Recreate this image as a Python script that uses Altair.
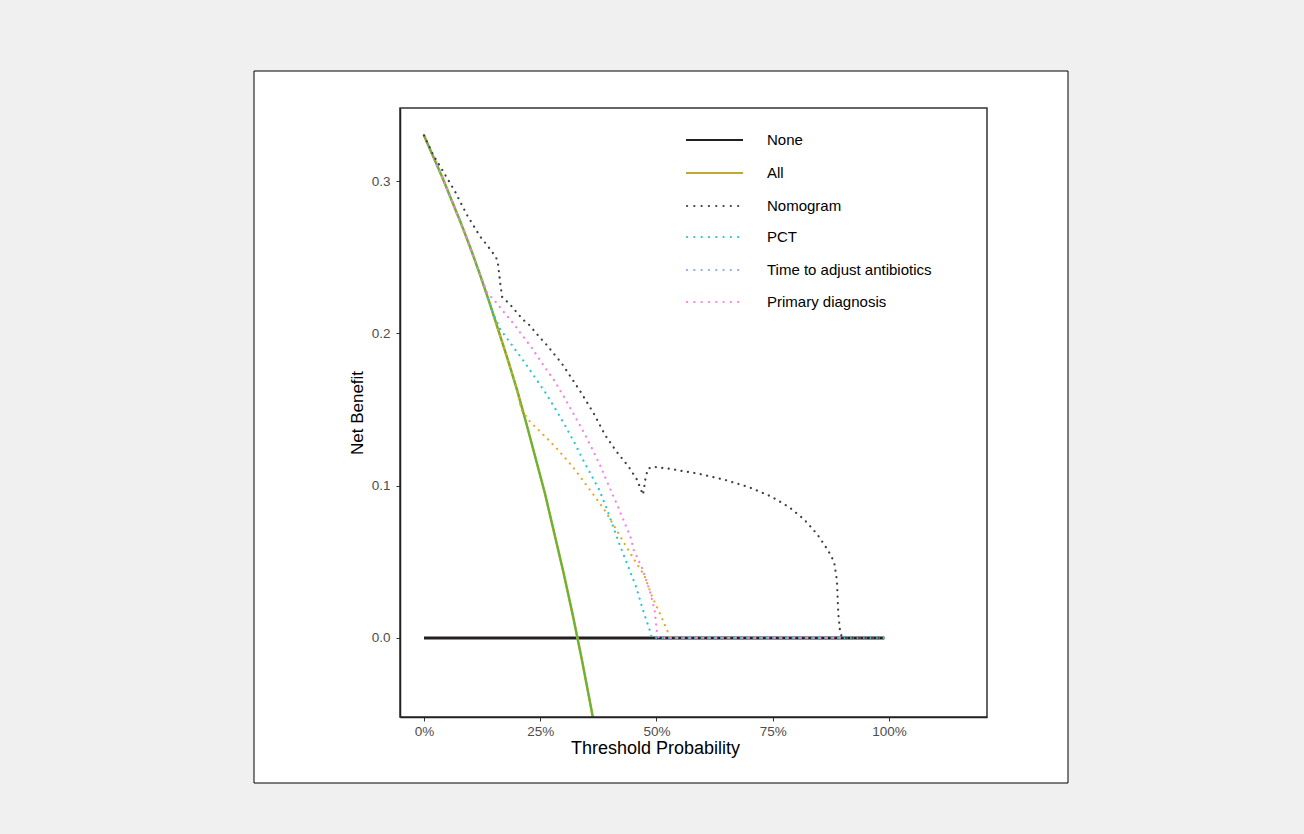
import altair as alt
import pandas as pd

# ---------------- data ----------------
none_x = [0.0, 0.99]
none_y = [0.0, 0.0]

all_x = [0.0, 0.02, 0.04, 0.06, 0.08, 0.10, 0.12, 0.14, 0.16, 0.18, 0.20, 0.22,
         0.24, 0.26, 0.28, 0.30, 0.32, 0.34, 0.36, 0.37]
all_y = [0.330, 0.316, 0.302, 0.287, 0.272, 0.256, 0.239, 0.221, 0.202, 0.183,
         0.163, 0.141, 0.118, 0.095, 0.069, 0.043, 0.015, -0.015, -0.047, -0.064]

nomo_x = [0.0, 0.02, 0.038, 0.067, 0.092, 0.121, 0.138, 0.155, 0.159, 0.164, 0.168,
          0.185, 0.213, 0.225, 0.25, 0.261, 0.297, 0.336, 0.365, 0.39, 0.415, 0.44,
          0.458, 0.471, 0.476, 0.481, 0.492, 0.530, 0.588, 0.645, 0.699, 0.746,
          0.785, 0.817, 0.846, 0.868, 0.882, 0.888, 0.891, 0.895, 0.90, 0.99]
nomo_y = [0.330, 0.317, 0.308, 0.293, 0.278, 0.2635, 0.257, 0.250, 0.246, 0.233, 0.224,
          0.219, 0.209, 0.206, 0.197, 0.1935, 0.180, 0.162, 0.1475, 0.133, 0.122, 0.1125,
          0.104, 0.094, 0.104, 0.111, 0.1125, 0.111, 0.108, 0.104, 0.099, 0.093,
          0.086, 0.078, 0.068, 0.058, 0.050, 0.038, 0.016, 0.0035, 0.0, 0.0]

pct_x = [0.0, 0.04, 0.08, 0.12, 0.146, 0.164, 0.189, 0.214, 0.239, 0.262, 0.284, 0.305,
         0.325, 0.343, 0.357, 0.377, 0.393, 0.407, 0.421, 0.436, 0.456, 0.472, 0.486,
         0.49, 0.99]
pct_y = [0.330, 0.302, 0.272, 0.239, 0.215, 0.2027, 0.1924, 0.182, 0.171, 0.1607, 0.1497,
         0.1387, 0.1274, 0.1164, 0.1085, 0.0972, 0.085, 0.073, 0.061, 0.0494, 0.0337,
         0.0173, 0.0046, 0.0, 0.0]

time_x = [0.0, 0.04, 0.08, 0.12, 0.16, 0.20, 0.209, 0.228, 0.248, 0.268, 0.287, 0.306,
          0.324, 0.341, 0.357, 0.374, 0.39, 0.412, 0.433, 0.455, 0.474, 0.49, 0.508,
          0.519, 0.525, 0.53, 0.99]
time_y = [0.330, 0.302, 0.272, 0.239, 0.202, 0.163, 0.150, 0.142, 0.136, 0.130, 0.1239,
          0.1173, 0.1108, 0.1037, 0.0972, 0.0901, 0.0832, 0.072, 0.061, 0.050, 0.041,
          0.0276, 0.0156, 0.0079, 0.0035, 0.0, 0.0]

prim_x = [0.0, 0.04, 0.08, 0.12, 0.136, 0.155, 0.172, 0.191, 0.208, 0.233, 0.257, 0.281,
          0.302, 0.323, 0.343, 0.362, 0.380, 0.396, 0.413, 0.429, 0.445, 0.451, 0.469,
          0.485, 0.496, 0.501, 0.505, 0.99]
prim_y = [0.330, 0.302, 0.272, 0.239, 0.2267, 0.2204, 0.2139, 0.207, 0.200, 0.190, 0.179,
          0.1687, 0.1578, 0.1464, 0.1354, 0.1241, 0.1125, 0.101, 0.0891, 0.0775, 0.0655,
          0.0578, 0.0458, 0.0315, 0.0184, 0.0037, 0.0, 0.0]

legend_labels = ["None", "All", "Nomogram", "PCT", "Time to adjust antibiotics",
                 "Primary diagnosis"]
legend_colors = ["#231f20", "#c2a830", "#404040", "#22c7d4", "#85a8f2", "#f77ee6"]
legend_rows = [32, 65, 98, 129, 162, 194]

x_ticks = [0, 0.25, 0.5, 0.75, 1.0]
y_ticks = [0.0, 0.1, 0.2, 0.3]

# ---------------- layout ----------------
W, H = 587, 609
FONT = "Liberation Sans"

xs = alt.Scale(domain=[-0.0516, 1.2108], nice=False, zero=False)
ys = alt.Scale(domain=[-0.0519, 0.348], nice=False, zero=False)

X = alt.X("x:Q", scale=xs, axis=alt.Axis(
    values=x_ticks, format=".0%", title="Threshold Probability", grid=False,
    labelFont=FONT, labelFontSize=13.5, labelColor="#4d4d4d", labelPadding=3,
    titleFont=FONT, titleFontSize=18, titleFontWeight="normal", titleColor="#000",
    titlePadding=2, titleX=255, domainColor="#222", domainWidth=1.5,
    tickColor="#333", tickSize=4, zindex=1))
Y = alt.Y("y:Q", scale=ys, axis=alt.Axis(
    values=y_ticks, format=".1f", title="Net Benefit", grid=False,
    labelFont=FONT, labelFontSize=13.5, labelColor="#4d4d4d", labelPadding=6,
    titleFont=FONT, titleFontSize=17, titleFontWeight="normal", titleColor="#000",
    titlePadding=5, domainColor="#222", domainWidth=1.5,
    tickColor="#333", tickSize=4, zindex=1))


def df(xv, yv):
    return pd.DataFrame({"x": xv, "y": yv})


one = pd.DataFrame({"a": [0]})

box = alt.Chart(one).mark_rect(fill="white", stroke="#000", strokeWidth=1).encode(
    x=alt.value(-146), x2=alt.value(668), y=alt.value(-37), y2=alt.value(675))

frame = alt.Chart(one).mark_rect(fill=None, stroke="#333", strokeWidth=1.5).encode(
    x=alt.value(0), x2=alt.value(W), y=alt.value(0), y2=alt.value(H))

none_line = alt.Chart(df(none_x, none_y)).mark_line(
    color="#231f20", strokeWidth=3).encode(x=X, y=Y)
all_gold = alt.Chart(df(all_x, all_y)).mark_line(
    color="#c2a830", strokeWidth=2.6, clip=True).encode(x=X, y=Y)
all_green = alt.Chart(df(all_x, all_y)).mark_line(
    color="#5cb83a", strokeWidth=1.8, clip=True).encode(x=X, y=Y)

DASH = [0.1, 6.4]


def dotted(xv, yv, col):
    return alt.Chart(df(xv, yv)).mark_line(
        color=col, strokeWidth=2.2, strokeDash=DASH, strokeCap="round").encode(x=X, y=Y)


time_line = dotted(time_x, time_y, "#e8a820")
pct_line = dotted(pct_x, pct_y, "#22c7d4")
prim_line = dotted(prim_x, prim_y, "#f77ee6")
nomo_line = dotted(nomo_x, nomo_y, "#404040")

leg = pd.DataFrame({"label": legend_labels, "col": legend_colors, "ly": legend_rows,
                    "solid": [1, 1, 0, 0, 0, 0]})

leg_solid = alt.Chart(leg).transform_filter("datum.solid == 1").mark_rule(
    strokeWidth=2).encode(
    x=alt.value(286), x2=alt.value(343), y=alt.Y("ly:Q", scale=None),
    color=alt.Color("col:N", scale=None))
leg_dot = alt.Chart(leg).transform_filter("datum.solid == 0").mark_rule(
    strokeWidth=2.2, strokeDash=[0.1, 7.2], strokeCap="round").encode(
    x=alt.value(287), x2=alt.value(343), y=alt.Y("ly:Q", scale=None),
    color=alt.Color("col:N", scale=None))
leg_text = alt.Chart(leg).mark_text(
    align="left", baseline="middle", font=FONT, fontSize=15, color="#000").encode(
    x=alt.value(367), y=alt.Y("ly:Q", scale=None), text="label:N")

chart = alt.layer(
    box, none_line, all_gold, all_green, time_line, pct_line, prim_line, nomo_line,
    frame, leg_solid, leg_dot, leg_text
).properties(
    width=W, height=H,
    autosize=alt.AutoSizeParams(type="none"),
    padding={"left": 400, "top": 108, "right": 317, "bottom": 117},
    background="#f0f0f0",
).configure_view(stroke=None)

chart.save("out.html", embed_options={"renderer": "svg", "actions": False})
